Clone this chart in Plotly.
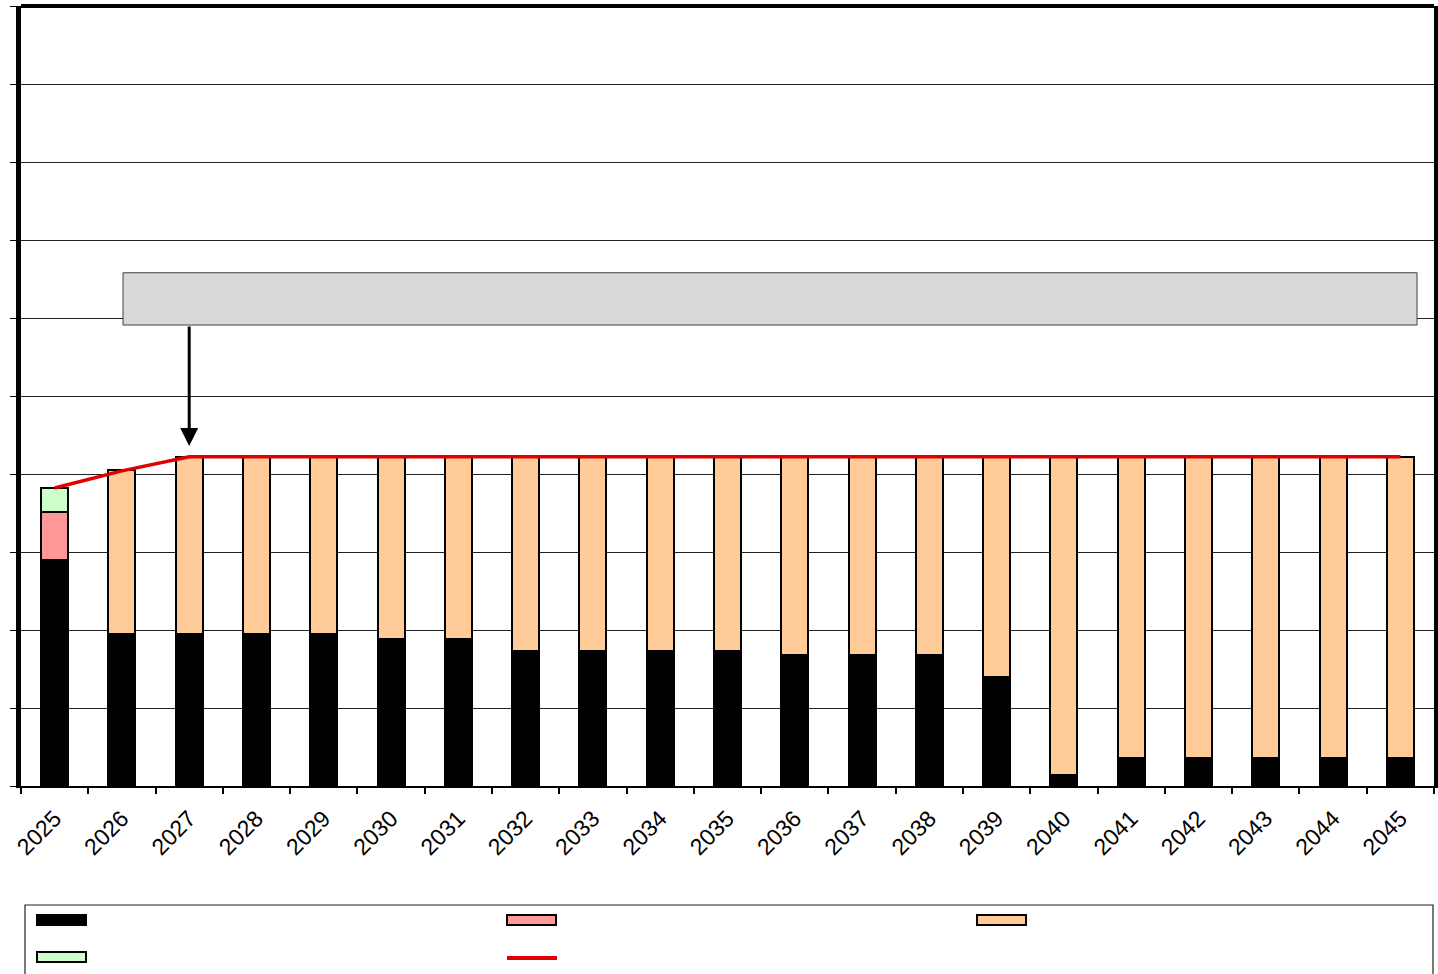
import plotly.graph_objects as go

years = [str(y) for y in range(2025, 2046)]
black_vals = [29.0, 19.5, 19.5, 19.5, 19.5, 18.8, 18.8, 17.3, 17.3, 17.3, 17.3,
              16.8, 16.8, 16.8, 14.0, 1.4, 3.6, 3.6, 3.6, 3.6, 3.6]
pink_vals = [6.1] + [0] * 20
green_vals = [3.1] + [0] * 20
orange_vals = [0, 21.0, 22.7, 22.7, 22.7, 23.4, 23.4, 24.9, 24.9, 24.9, 24.9,
               25.4, 25.4, 25.4, 28.2, 40.8, 38.6, 38.6, 38.6, 38.6, 38.6]
total_line = [38.2, 40.4] + [42.2] * 19

fig = go.Figure()
outline = dict(color="black", width=2)
fig.add_trace(go.Bar(x=years, y=black_vals, marker=dict(color="#000000", line=outline), name=""))
fig.add_trace(go.Bar(x=years, y=pink_vals, marker=dict(color="#ff9999", line=outline), name=""))
fig.add_trace(go.Bar(x=years, y=orange_vals, marker=dict(color="#ffcc99", line=outline), name=""))
fig.add_trace(go.Bar(x=years, y=green_vals, marker=dict(color="#ccffcc", line=outline), name=""))
fig.add_trace(go.Scatter(x=years, y=total_line, mode="lines",
                         line=dict(color="#e00000", width=3.5), name=""))

shapes = []
# gray box
shapes.append(dict(type="rect", xref="paper", yref="y", x0=0.0722, x1=0.988, y0=59.1, y1=65.8,
                   fillcolor="#d9d9d9", line=dict(color="#404040", width=1), layer="above"))
# top border
shapes.append(dict(type="line", xref="paper", yref="paper", x0=0, x1=1, y0=1, y1=1,
                   line=dict(color="black", width=4)))
# legend box (below plot)
py = lambda y: (786 - y) / 780.0
px = lambda x: (x - 21) / 1413.0
shapes.append(dict(type="rect", xref="paper", yref="paper", x0=px(25), x1=px(1433), y0=py(905), y1=py(990),
                   fillcolor="white", line=dict(color="#222222", width=1.2)))
leg = [(37, 920, "#000000"), (507, 920, "#ff9999"), (977, 920, "#ffcc99"), (37, 957, "#ccffcc")]
for x, y, c in leg:
    shapes.append(dict(type="rect", xref="paper", yref="paper", x0=px(x), x1=px(x + 49),
                       y0=py(y + 5), y1=py(y - 5), fillcolor=c, line=dict(color="black", width=2)))
shapes.append(dict(type="line", xref="paper", yref="paper", x0=px(507), x1=px(557),
                   y0=py(958), y1=py(958), line=dict(color="#e00000", width=4)))

fig.update_layout(
    barmode="stack",
    bargap=0.6,
    width=1438, height=974,
    margin=dict(l=21, r=4, t=6, b=188),
    plot_bgcolor="white", paper_bgcolor="white",
    showlegend=False,
    shapes=shapes,
    annotations=[dict(x=2, y=43.6, ax=2, ay=59.1, xref="x", yref="y",
                      axref="x", ayref="y", text="", showarrow=True,
                      arrowhead=2, arrowsize=1.2, arrowwidth=3, arrowcolor="black")],
    xaxis=dict(type="category", range=[-0.5, 20.5], automargin=False,
               showline=True, linecolor="black", linewidth=2,
               ticks="outside", ticklen=6, tickwidth=2, tickcolor="black",
               tickson="boundaries", tickangle=-45, ticklabelstandoff=8,
               tickfont=dict(family="Liberation Sans, Arial", size=23, color="black"),
               showgrid=False),
    yaxis=dict(range=[0, 100], dtick=10, showline=True, linecolor="black", linewidth=4.5,
               mirror=True, ticks="outside", ticklen=6, tickcolor="black", automargin=False,
               showticklabels=False, showgrid=True, gridcolor="#222222", gridwidth=1,
               zeroline=False),
)
fig.write_html("out.html", config={"displayModeBar": False},
               post_script="document.body.style.margin='0px';document.body.style.overflow='hidden';")
